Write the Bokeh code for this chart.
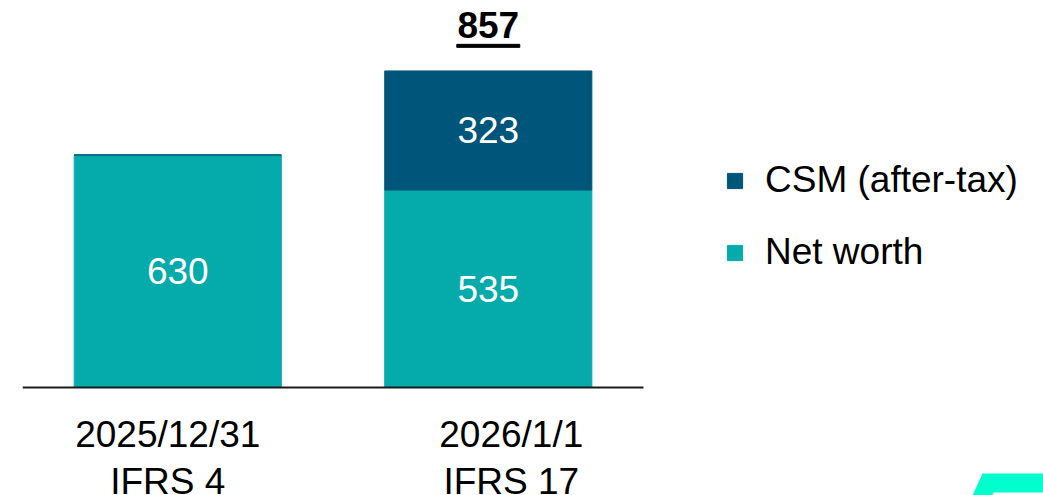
from bokeh.plotting import figure
from bokeh.models import ColumnDataSource, Range1d, Legend, LegendItem, FixedTicker, PolyAnnotation
from bokeh.core.properties import value
from bokeh.embed import file_html
from bokeh.resources import INLINE

# ---- data ----
categories = ["2025/12/31\nIFRS 4", "2026/1/1\nIFRS 17"]
net_worth = [630, 535]
csm = [0, 323]
total_label = ["", "857"]
series_names = ["CSM (after-tax)", "Net worth"]

# ---- style ----
C_CSM = "#00557A"
C_NW = "#05ABAB"
FONT = "Liberation Sans"
FS = "37px"
LABEL_DX = [-10, 23]   # horizontal nudge of category labels (px)

idx = list(range(len(categories)))
tops = [n + c for n, c in zip(net_worth, csm)]
src = ColumnDataSource(dict(
    x=idx, nw=net_worth, csm=csm, top=tops,
    nw_mid=[n / 2 for n in net_worth],
    csm_mid=[n + c / 2 for n, c in zip(net_worth, csm)],
    nw_lbl=[str(v) for v in net_worth],
    csm_lbl=[str(v) if v else "" for v in csm],
    tot=total_label, cat=categories, dx=LABEL_DX, zero=[0] * len(idx),
))

p = figure(width=1043, height=495, x_range=Range1d(-0.5, 2.788),
           y_range=Range1d(-293.5, 1049), output_backend="svg", toolbar_location=None,
           min_border_left=22, min_border_right=0, min_border_top=0, min_border_bottom=0)
p.outline_line_color = None
p.grid.visible = False
p.yaxis.visible = False
p.background_fill_color = None
p.border_fill_color = "white"

r_nw = p.vbar(x="x", bottom=0, top="nw", width=0.667, color=C_NW, source=src)
r_csm = p.vbar(x="x", bottom="nw", top="top", width=0.667, color=C_CSM, source=src)

p.text(x="x", y="nw_mid", text="nw_lbl", source=src, text_align="center", text_baseline="middle",
       text_color="white", text_font=value(FONT), text_font_size=FS)
p.text(x="x", y="csm_mid", text="csm_lbl", source=src, text_align="center", text_baseline="middle",
       text_color="white", text_font=value(FONT), text_font_size=FS)
p.text(x="x", y="top", text="tot", source=src, text_align="center", text_baseline="middle",
       y_offset=-46, text_color="black", text_font=value(FONT), text_font_size=FS,
       text_font_style="bold")
# underline under total
ul = ColumnDataSource(dict(x=[idx[1]], y=[tops[1] + 68]))
p.rect(x="x", y="y", width=63, height=3, width_units="screen", height_units="screen",
       color="black", source=ul)

# category labels under the baseline
p.text(x="x", y="zero", text="cat", source=src, x_offset="dx", y_offset=27,
       text_align="center", text_baseline="top", text_line_height=1.15,
       text_color="black", text_font=value(FONT), text_font_size=FS)

ax = p.xaxis[0]
ax.ticker = FixedTicker(ticks=[])
ax.fixed_location = 0
ax.bounds = (-0.5, 1.5)
ax.axis_line_color = "#1a1a1a"
ax.axis_line_width = 2
ax.major_tick_out = 0
ax.major_tick_in = 0
ax.minor_tick_out = 0
ax.minor_tick_in = 0
ax.major_label_standoff = 0
ax.major_label_text_font_size = "1px"

legend = Legend(items=[LegendItem(label=series_names[0], renderers=[r_csm]),
                       LegendItem(label=series_names[1], renderers=[r_nw])],
                location=(703, 222), orientation="vertical")
legend.border_line_color = None
legend.background_fill_color = None
legend.padding = 0
legend.margin = 0
legend.glyph_width = 19
legend.glyph_height = 19
legend.label_height = 41
legend.spacing = 30
legend.label_standoff = 21
legend.label_text_font = FONT
legend.label_text_font_size = FS
legend.label_text_color = "black"
p.add_layout(legend, "center")

# partial logo mark in the lower-right corner (screen units relative to the frame, y from bottom)
p.add_layout(PolyAnnotation(xs=[960, 1021, 1021, 971, 970, 950], ys=[22, 22, 3, 3, 0, 0],
                            xs_units="screen", ys_units="screen",
                            fill_color="#00FFCC", fill_alpha=1.0, line_color=None))

open("out.html", "w").write(file_html(p, INLINE))
